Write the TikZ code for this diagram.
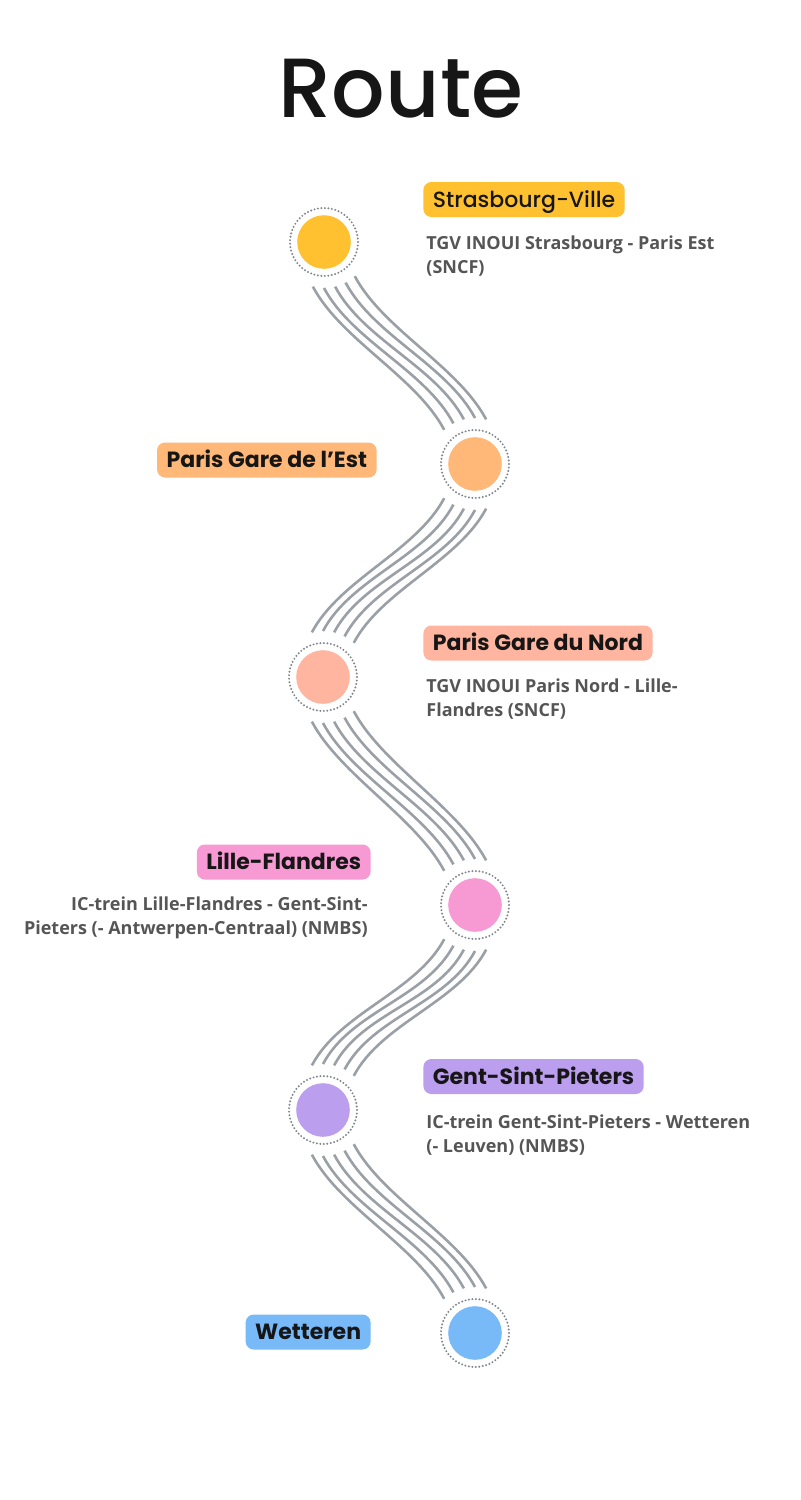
\documentclass[tikz,border=0pt]{standalone}
\usepackage{fontspec}
\setmainfont{Open Sans}
\newfontfamily\titlefont{Poppins Medium}
\newfontfamily\tagfont{Poppins}
\newfontfamily\tagmedfont{Poppins Medium}
\usetikzlibrary{positioning, calc}

\definecolor{stopyellow}{HTML}{FFC12F}
\definecolor{stoporange}{HTML}{FFB877}
\definecolor{stopsalmon}{HTML}{FFB5A0}
\definecolor{stoppink}{HTML}{F799D3}
\definecolor{stoppurple}{HTML}{BC9EEE}
\definecolor{stopblue}{HTML}{78B9F8}
\definecolor{railgray}{HTML}{9AA0A6}
\definecolor{ringgray}{HTML}{80868D}
\definecolor{descgray}{HTML}{555555}
\definecolor{inkblack}{HTML}{161616}

\begin{document}
\begin{tikzpicture}[
    x=0.5pt, y=0.5pt,
    stop/.style={circle, minimum size=34pt, inner sep=0pt, draw=ringgray,
                 line width=1.1pt, line cap=round, dash pattern=on 0pt off 1.75pt,
                 path picture={\fill[#1] (path picture bounding box.center) circle (13.4pt);}},
    tag/.style={fill=#1, rounded corners=4pt, minimum height=17.5pt, inner xsep=4.75pt,
                inner ysep=0pt, text height=7.5pt, text depth=0pt, text=inkblack,
                font=\tagfont\bfseries\fontsize{11}{12}\selectfont},
    desc/.style={inner sep=0pt, text=descgray, font=\bfseries\fontsize{9}{12}\selectfont},
    rail/.style={draw=railgray, line width=1.3pt}
]
    \useasboundingbox (0,0) rectangle (800,-1500);
    \fill[white] (0,0) rectangle (800,-1500);

    % Title
    \node[anchor=base, text=inkblack, font=\titlefont\fontsize{42}{42}\selectfont] (title) at (401,-117) {Route};

    % Stops
    \node[stop=stopyellow] (st1) at (324,-242) {};
    \node[stop=stoporange] (st2) at (475,-464) {};
    \node[stop=stopsalmon] (st3) at (323,-677) {};
    \node[stop=stoppink] (st4) at (475,-905) {};
    \node[stop=stoppurple] (st5) at (323,-1110) {};
    \node[stop=stopblue] (st6) at (475,-1333) {};

    % Rails between stops
    \foreach \a/\b/\s in {st1/st2/1, st2/st3/-1, st3/st4/1, st4/st5/-1, st5/st6/1}
      \foreach \k in {0,...,4}{
        \pgfmathsetmacro\angA{90+\s*(-194+14*\k)}
        \pgfmathsetmacro\angB{90+\s*(42-14*\k)}
        \pgfmathsetmacro\outA{90+\s*(-152)}
        \pgfmathsetmacro\inB{90+\s*(28)}
        \draw[rail] ($(\a.center)+(\angA:46)$) to[out=\outA, in=\inB, distance=30pt] ($(\b.center)+(\angB:46)$);
      }

    % Station names
    \node[tag=stopyellow, anchor=west, font=\tagmedfont\fontsize{11}{12}\selectfont] (lb1) at (423,-199.5) {Strasbourg-Ville};
    \node[tag=stoporange, anchor=east] (lb2) at (377,-460) {Paris Gare de l’Est};
    \node[tag=stopsalmon, anchor=west] (lb3) at (423,-643) {Paris Gare du Nord};
    \node[tag=stoppink, anchor=east] (lb4) at (371,-862) {Lille-Flandres};
    \node[tag=stoppurple, anchor=west] (lb5) at (423,-1076.5) {Gent-Sint-Pieters};
    \node[tag=stopblue, anchor=east] (lb6) at (371,-1332) {Wetteren};

    % Train services
    \node[desc, align=left, below right=9pt and 1.5pt of lb1.south west] (ds1) {TGV INOUI Strasbourg - Paris Est\\(SNCF)};
    \node[desc, align=left, below right=9pt and 1.5pt of lb3.south west] (ds3) {TGV INOUI Paris Nord - Lille-\\Flandres (SNCF)};
    \node[desc, align=right, below left=8.5pt and 1.5pt of lb4.south east] (ds4) {IC-trein Lille-Flandres - Gent-Sint-\\Pieters (- Antwerpen-Centraal) (NMBS)};
    \node[desc, align=left, below right=10pt and 1.5pt of lb5.south west] (ds5) {IC-trein Gent-Sint-Pieters - Wetteren\\(- Leuven) (NMBS)};

\end{tikzpicture}
\end{document}
